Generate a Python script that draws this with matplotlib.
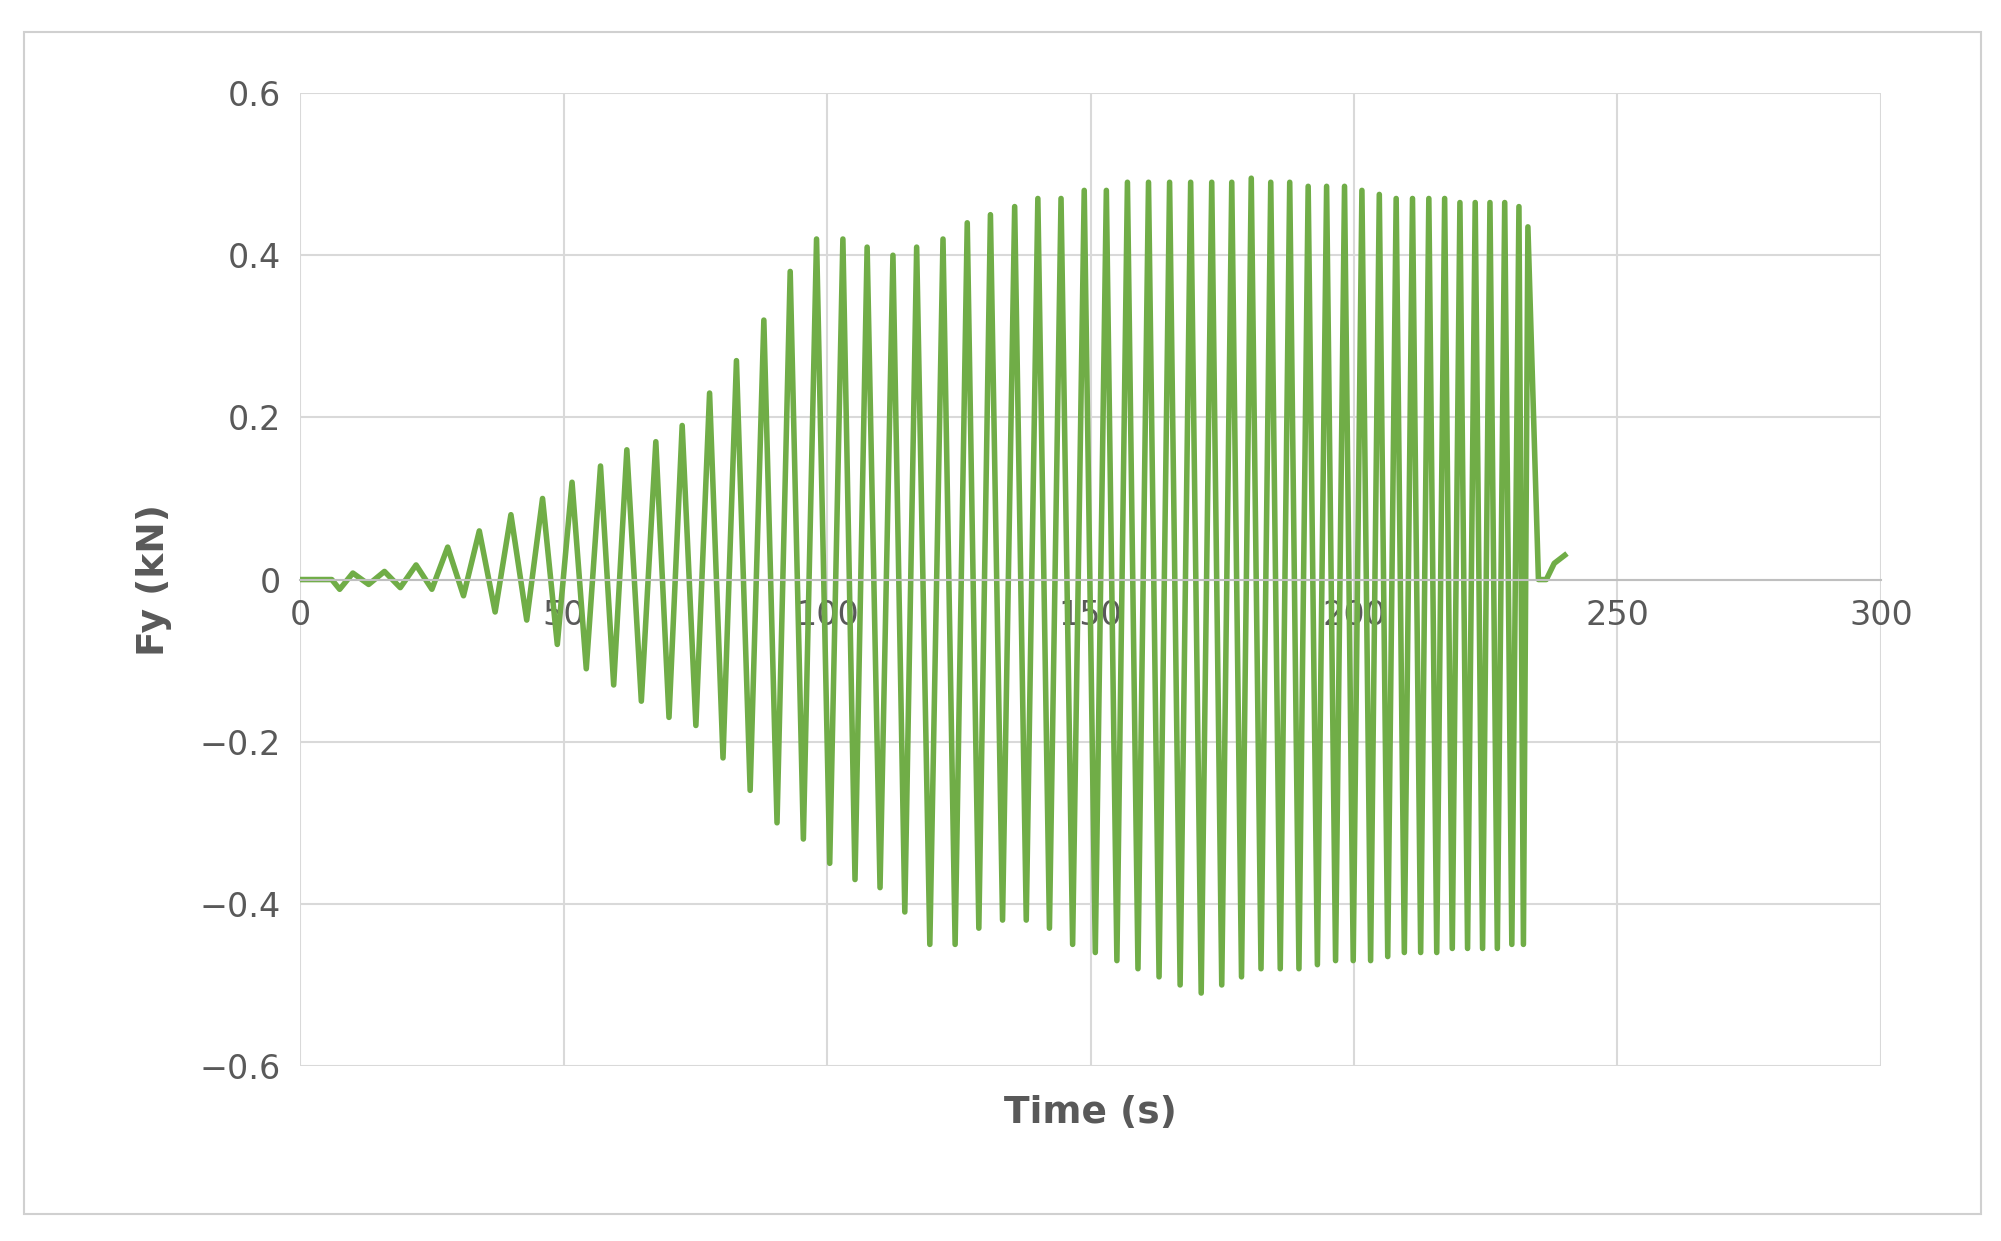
import matplotlib.pyplot as plt
from matplotlib.patches import Rectangle

# extrema of the Fy trace (time s, force kN)
lead_t = [0, 6, 7.5, 10, 13, 16, 19, 22, 25]
lead_v = [0, 0, -0.012, 0.008, -0.006, 0.01, -0.01, 0.018, -0.012]

peak_t = [28, 34, 40, 46, 51.6, 57, 62, 67.5, 72.5, 77.7, 82.8, 88, 93, 98, 103,
          107.6, 112.5, 117, 122, 126.6, 131, 135.6, 140, 144.4, 148.8, 153, 157,
          161, 165, 169, 173, 176.8, 180.5, 184.2, 187.8, 191.3, 194.8, 198.2,
          201.5, 204.8, 208, 211.1, 214.2, 217.2, 220.1, 223, 225.8, 228.6, 231.3, 233]
peak_v = [0.04, 0.06, 0.08, 0.10, 0.12, 0.14, 0.16, 0.17, 0.19, 0.23, 0.27, 0.32,
          0.38, 0.42, 0.42, 0.41, 0.40, 0.41, 0.42, 0.44, 0.45, 0.46, 0.47, 0.47,
          0.48, 0.48, 0.49, 0.49, 0.49, 0.49, 0.49, 0.49, 0.495, 0.49, 0.49, 0.485,
          0.485, 0.485, 0.48, 0.475, 0.47, 0.47, 0.47, 0.47, 0.465, 0.465, 0.465,
          0.465, 0.46, 0.435]
trough_v = [-0.02, -0.04, -0.05, -0.08, -0.11, -0.13, -0.15, -0.17, -0.18, -0.22,
            -0.26, -0.30, -0.32, -0.35, -0.37, -0.38, -0.41, -0.45, -0.45, -0.43,
            -0.42, -0.42, -0.43, -0.45, -0.46, -0.47, -0.48, -0.49, -0.50, -0.51,
            -0.50, -0.49, -0.48, -0.48, -0.48, -0.475, -0.47, -0.47, -0.47, -0.465,
            -0.46, -0.46, -0.46, -0.455, -0.455, -0.455, -0.455, -0.45, -0.45]
tail_t = [235, 236.5, 238, 240]
tail_v = [0.0, 0.0, 0.02, 0.03]

t = list(lead_t)
v = list(lead_v)
for i in range(len(peak_t)):
    t.append(peak_t[i])
    v.append(peak_v[i])
    if i < len(trough_v):
        t.append((peak_t[i] + peak_t[i + 1]) / 2)
        v.append(trough_v[i])
t += tail_t
v += tail_v

fig = plt.figure(figsize=(20.01, 12.41), dpi=100)
fig.patches.append(Rectangle((0.012, 0.022), 0.978, 0.952, transform=fig.transFigure,
                             fill=False, edgecolor='#d0d0d0', linewidth=1.5))
ax = fig.add_axes([0.15, 0.141, 0.79, 0.784])
ax.plot(t, v, color='#70ad47', linewidth=4)

ax.set_xlim(0, 300)
ax.set_ylim(-0.6, 0.6)
ax.set_xticks(range(0, 301, 50))
ax.set_yticks([-0.6, -0.4, -0.2, 0, 0.2, 0.4, 0.6])
ax.set_yticklabels(['\u22120.6', '\u22120.4', '\u22120.2', '0', '0.2', '0.4', '0.6'])
ax.grid(True, color='#d9d9d9', linewidth=1.5)
for s in ['top', 'left', 'right']:
    ax.spines[s].set_visible(False)
ax.spines['bottom'].set_position(('data', 0))
ax.spines['bottom'].set_color('#bfbfbf')
ax.spines['bottom'].set_linewidth(1.5)
ax.tick_params(length=0, labelsize=24, labelcolor='#595959', pad=14)
ax.set_ylabel('Fy (kN)', fontsize=27, fontweight='bold', color='#595959', labelpad=20)
fig.text(0.545, 0.103, 'Time (s)', fontsize=27, fontweight='bold', color='#595959',
         ha='center', va='center')

fig.savefig('out.png', dpi=100)
